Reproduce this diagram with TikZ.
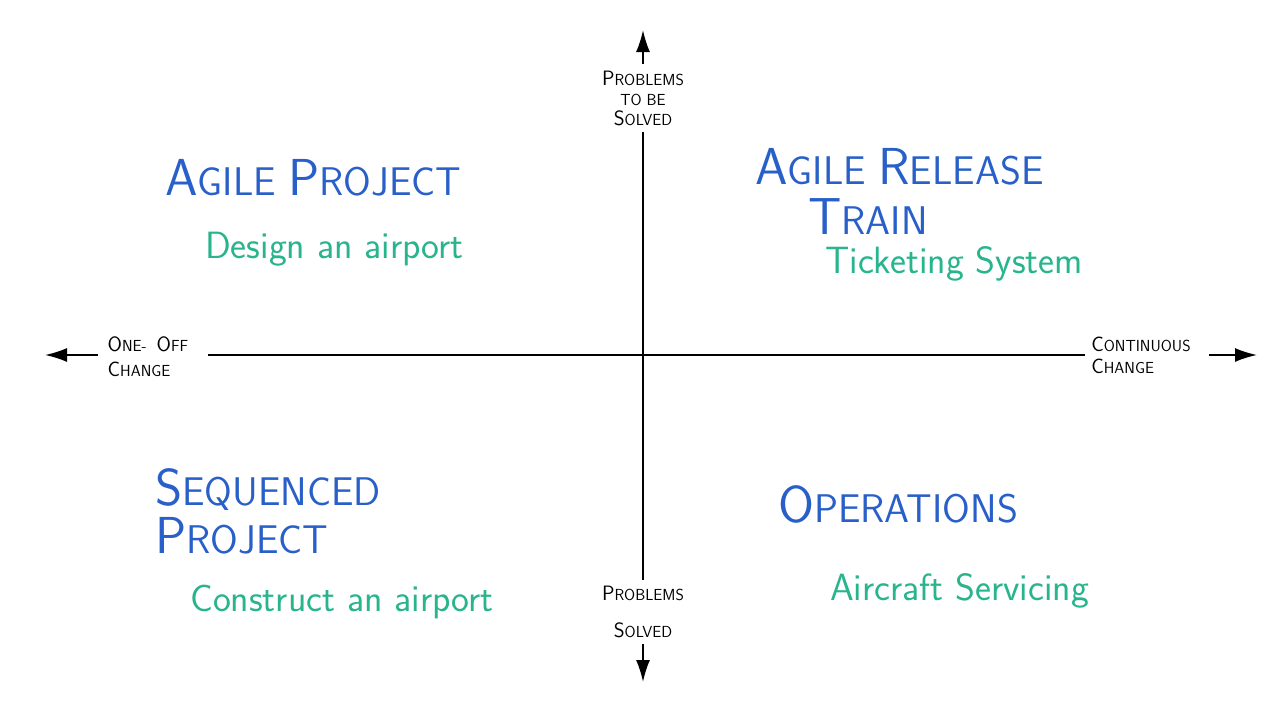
\documentclass[tikz,border=0pt]{standalone}
\usepackage{graphicx}
\usepackage{xcolor}
\usepackage{tikz}
\usetikzlibrary{arrows.meta,positioning}

\definecolor{penblue}{RGB}{40,95,200}
\definecolor{pengreen}{RGB}{40,180,140}
\newcommand{\qi}[1]{\scalebox{1.3}{#1}}

\begin{document}
\begin{tikzpicture}[x=1pt, y=-1pt,
        axis/.style={line width=1.7pt},
        tip/.style={axis, -{Latex[length=22pt,width=14pt]}},
        axislabel/.style={font=\sffamily\fontsize{16}{20}\selectfont, inner sep=6pt},
        quadtitle/.style={font=\sffamily\fontsize{40}{46}\selectfont, text=penblue, anchor=base west, inner sep=0pt},
        example/.style={font=\sffamily\fontsize{38}{42}\selectfont, text=pengreen, anchor=base west, inner sep=0pt}]
        \useasboundingbox[fill=white] (0,0) rectangle (1280,720);

        % Axes
        \coordinate (top) at (643,30);
        \coordinate (bot) at (643,682);
        \coordinate (left) at (45,355);
        \coordinate (right) at (1257,355);
        \node[axislabel, align=center] (tobesolved) at (643,98) {\qi{P}ROBLEMS\\TO BE\\\qi{S}OLVED};
        \node[axislabel, align=center, font=\sffamily\fontsize{16}{37}\selectfont] (solved) at (643,612) {\qi{P}ROBLEMS\\\qi{S}OLVED};
        \node[axislabel, align=left, font=\sffamily\fontsize{16}{25}\selectfont] (oneoff) at (148,357) {\qi{O}NE- \ \qi{O}FF\\\qi{C}HANGE};
        \node[axislabel, align=left, font=\sffamily\fontsize{16}{22}\selectfont] (continuous) at (1141,355) {\qi{C}ONTINUOUS\\\qi{C}HANGE};
        \draw[tip] (tobesolved) -- (top);
        \draw[axis] (tobesolved) -- (solved);
        \draw[tip] (solved) -- (bot);
        \draw[tip] ([xshift=-4pt]oneoff.west |- left) -- (left);
        \draw[axis] ([xshift=14pt]oneoff.east |- left) -- (continuous.west |- right);
        \draw[tip] ([xshift=12pt]continuous.east |- right) -- (right);

        % Quadrants
        \node[quadtitle] (agileproject) at (165,195) {\qi{A}GILE \qi{P}ROJECT};
        \node[example] (design) at (205,258) {Design an airport};
        \node[quadtitle] (art) at (755,184) {\qi{A}GILE \qi{R}ELEASE};
        \node[quadtitle] (train) at (808,234) {\qi{T}RAIN};
        \node[example] (ticketing) at (825,273) {Ticketing System};
        \node[quadtitle] (sequenced) at (155,505) {\qi{S}EQUENCED};
        \node[quadtitle] (project) at (155,553) {\qi{P}ROJECT};
        \node[example] (construct) at (190,611) {Construct an airport};
        \node[quadtitle] (operations) at (778,522) {\qi{O}PERATIONS};
        \node[example] (servicing) at (830,600) {Aircraft Servicing};
\end{tikzpicture}
\end{document}
